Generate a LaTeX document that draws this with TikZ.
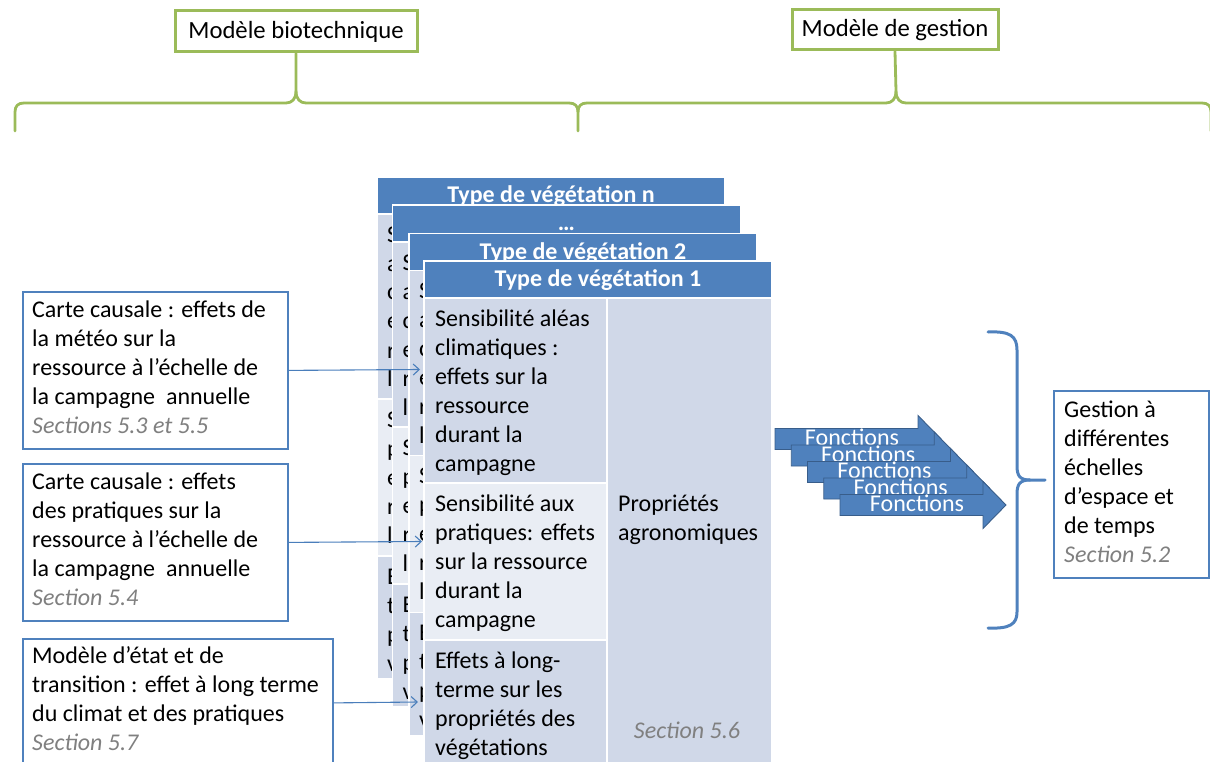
\documentclass[tikz,border=0pt]{standalone}
\usepackage{fontspec}
\setmainfont{Carlito}
\usetikzlibrary{arrows.meta}
\definecolor{hdr}{HTML}{4F81BD}
\definecolor{cdark}{HTML}{D0D8E8}
\definecolor{clight}{HTML}{E9EDF4}
\definecolor{grn}{HTML}{9BBB59}
\definecolor{secg}{HTML}{808080}
\definecolor{arrb}{HTML}{385D8A}
\definecolor{conblue}{HTML}{4A7EBB}
\newcommand\bigf{\fontsize{24}{29}\selectfont}
\newcommand\topf{\fontsize{24.7}{29}\selectfont}
\newcommand\ml[1]{\begin{tabular}[t]{@{}l@{}}#1\end{tabular}}
\newcommand\secline[1]{{\color{secg}\itshape #1}}
\newcommand\cardframe{%
 \fill[hdr] (0,0) rectangle (348,37);
 \fill[cdark] (0,37) rectangle (348,502);
 \fill[clight] (0,222) rectangle (183,379);
 \draw[white, line width=1.5pt] (0,0) rectangle (348,502) (0,37) -- (348,37)
   (183,37) -- (183,502) (0,222) -- (183,222) (0,379) -- (183,379);}
% card partly hidden behind others: header and the visible first letters
\newcommand\vegback[4]{%
\begin{scope}[shift={(#2,#3)}]
 \cardframe
 \node[hdrtxt] (#1h) at (174,25.5) {#4};
 \node[celltxt] (#1a) at (10,65) {\ml{S\\a\\c\\e\\r\\l}};
 \node[celltxt] (#1b) at (10,250) {\ml{S\\p\\e\\r\\l}};
 \node[celltxt] (#1c) at (10,407) {\ml{E\\t\\p\\v}};
\end{scope}}
% front card, fully visible
\newcommand\vegcard[7]{%
\begin{scope}[shift={(#2,#3)}]
 \cardframe
 \node[hdrtxt] (#1h) at (174,25.5) {#4};
 \node[celltxt] (#1a) at (11,65) {\ml{#5}};
 \node[celltxt] (#1b) at (11,250) {\ml{#6}};
 \node[celltxt] (#1c) at (11,407) {\ml{#7}};
 \node[celltxt] (#1d) at (194,250) {\ml{Propriétés\\agronomiques}};
 \node[sectxt] (#1e) at (263,477) {Section 5.6};
\end{scope}}
\begin{document}
\begin{tikzpicture}[x=1pt, y=-1pt,
  celltxt/.style={anchor=base west, inner sep=0pt, font=\bigf, text=black},
  hdrtxt/.style={anchor=base, inner sep=0pt, font=\bigf\bfseries, text=white},
  sectxt/.style={anchor=base, inner sep=0pt, font=\bigf\itshape, text=secg},
  gbox/.style={draw=grn, line width=3pt, fill=white, inner sep=0pt, font=\topf},
  bbox/.style={draw=hdr, line width=1.8pt, fill=white, inner sep=0pt},
  gbrace/.style={draw=grn, line width=2.8pt, line join=round, line cap=round},
  bbrace/.style={draw=hdr, line width=3pt, line join=round, line cap=round},
  conn/.style={draw=conblue, line width=1.1pt, -{Straight Barb[length=6pt,width=11pt]}},
  farrow/.style={fill=hdr, draw=arrb, line width=0.9pt},
  ftxt/.style={anchor=base, inner sep=0pt, font=\bigf, text=white}]
\useasboundingbox (0,0) rectangle (1210,762);
\clip (0,0) rectangle (1210,762);

% top labels and braces
\node[gbox, minimum width=242pt, minimum height=41pt] (bio) at (296,31.5) {Modèle biotechnique};
\node[gbox, minimum width=206pt, minimum height=40pt] (gest) at (895,30) {Modèle de gestion};
\coordinate (tipA) at (296,91);
\coordinate (tipB) at (896,91);
\draw[gbrace] (15,131) -- (15,112) .. controls (15,106) and (18,103) .. (24,103) -- (286,103)
  .. controls (292,103) and (296,99) .. (tipA) -- (bio.south);
\draw[gbrace] (tipA) .. controls (296,99) and (300,103) .. (306,103) -- (569,103)
  .. controls (575,103) and (578,106) .. (578,112) -- (578,131);
\draw[gbrace] (578,112) .. controls (578,106) and (581,103) .. (587,103) -- (886,103)
  .. controls (892,103) and (896,99) .. (tipB) -- (gest.south);
\draw[gbrace] (tipB) .. controls (896,99) and (900,103) .. (906,103) -- (1202,103)
  .. controls (1208,103) and (1211,106) .. (1211,112) -- (1211,131);

% vegetation cards, back to front
\vegback{cn}{377}{177}{Type de végétation n}
\vegback{cd}{392.5}{205}{\ldots}
\vegback{ctwo}{409}{233.5}{Type de végétation 2}
\vegcard{cone}{424}{261}{Type de végétation 1}
  {Sensibilité aléas\\climatiques :\\effets sur la\\ressource\\durant la\\campagne}
  {Sensibilité aux\\pratiques: effets\\sur la ressource\\durant la\\campagne}
  {Effets à long-\\terme sur les\\propriétés des\\végétations}

% left boxes
\node[bbox, minimum width=265pt, minimum height=157pt, anchor=north west] (boxA) at (22,291) {};
\node[celltxt] (boxAt) at (32,317) {\ml{Carte causale : effets de\\la météo sur la\\ressource à l’échelle de\\la campagne~ annuelle\\\secline{Sections 5.3 et 5.5}}};
\node[bbox, minimum width=265pt, minimum height=157pt, anchor=north west] (boxB) at (22,463) {};
\node[celltxt] (boxBt) at (32,489) {\ml{Carte causale : effets\\des pratiques sur la\\ressource à l’échelle de\\la campagne~ annuelle\\\secline{Section 5.4}}};
\node[bbox, minimum width=310pt, minimum height=128pt, anchor=north west] (boxC) at (22,638) {};
\node[celltxt] (boxCt) at (32,663) {\ml{Modèle d’état et de\\transition : effet à long terme\\du climat et des pratiques\\\secline{Section 5.7}}};

\coordinate (tA) at (420,369.5);
\coordinate (tB) at (422,541.5);
\coordinate (tC) at (418,702);
\draw[conn] (boxA.east) -- (tA);
\draw[conn] (boxB.east) -- (tB);
\draw[conn] (boxC.east) -- (tC);

% Fonctions arrows
\foreach \k in {0,...,4}{
  \pgfmathsetmacro\L{775+16.25*\k}
  \pgfmathsetmacro\C{439+16.5*\k}
  \draw[farrow] (\L,\C-10.5) -- (\L+143,\C-10.5) -- (\L+143,\C-23.5) -- (\L+166,\C)
     -- (\L+143,\C+23.5) -- (\L+143,\C+10.5) -- (\L,\C+10.5) -- cycle;
  \node[ftxt] (f\k) at (\L+77,\C+6.5) {Fonctions};
}

% right brace
\draw[bbrace] (988,332) .. controls (1010,331) and (1017,336) .. (1017,350) -- (1017,466)
  .. controls (1017,476) and (1020,480) .. (1030,480) -- (1045,480);
\draw[bbrace] (1030,480) .. controls (1020,480) and (1017,484) .. (1017,494) -- (1017,612)
  .. controls (1017,624) and (1010,629) .. (988,628);

% management box
\node[bbox, minimum width=155pt, minimum height=187pt, anchor=north west] (gbx) at (1053,390) {};
\node[celltxt] (gbxt) at (1064,417) {\ml{Gestion à\\différentes\\échelles\\d’espace et\\de temps\\\secline{Section 5.2}}};
\end{tikzpicture}
\end{document}
